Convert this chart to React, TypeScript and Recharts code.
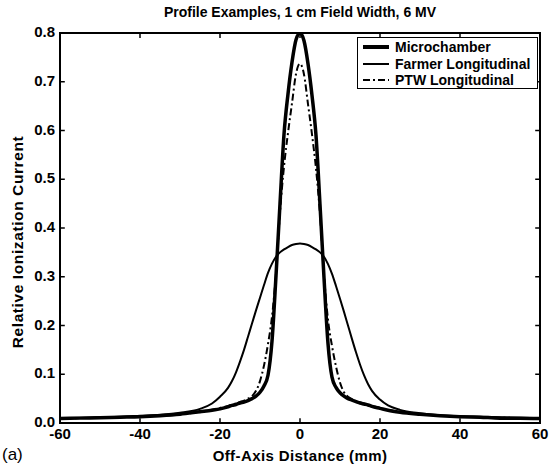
import React from "react";
import { LineChart, Line, XAxis, YAxis, ReferenceArea, ReferenceLine } from "recharts";

const offAxisMm = [-60,-55,-50,-45,-40,-35,-30,-25,-22,-20,-18,-17,-16,-15,-14,-13,-12,-11,-10,-9,-8,-7,-6,-5,-4,-3,-2,-1,0,1,2,3,4,5,6,7,8,9,10,11,12,13,14,15,16,17,18,20,22,25,30,35,40,45,50,55,60];

const microchamber = [0.009,0.010,0.011,0.012,0.013,0.015,0.018,0.023,0.026,0.029,0.033,0.036,0.038,0.041,0.043,0.046,0.050,0.055,0.063,0.076,0.098,0.168,0.302,0.450,0.592,0.675,0.740,0.786,0.800,0.784,0.737,0.672,0.590,0.448,0.298,0.163,0.094,0.073,0.062,0.055,0.050,0.047,0.044,0.041,0.039,0.037,0.034,0.030,0.026,0.022,0.018,0.015,0.013,0.012,0.010,0.010,0.009];

const farmerLongitudinal = [0.010,0.011,0.012,0.013,0.015,0.017,0.021,0.029,0.040,0.054,0.072,0.086,0.104,0.126,0.150,0.177,0.204,0.231,0.257,0.283,0.308,0.327,0.341,0.350,0.356,0.361,0.365,0.367,0.368,0.367,0.365,0.361,0.356,0.350,0.341,0.326,0.306,0.281,0.255,0.228,0.200,0.172,0.145,0.120,0.098,0.080,0.066,0.048,0.036,0.027,0.020,0.016,0.014,0.013,0.012,0.011,0.010];

const ptwLongitudinal = [0.009,0.010,0.011,0.012,0.013,0.015,0.018,0.023,0.027,0.031,0.035,0.038,0.040,0.043,0.046,0.050,0.055,0.066,0.086,0.118,0.162,0.218,0.307,0.432,0.526,0.595,0.656,0.716,0.737,0.715,0.654,0.592,0.522,0.428,0.303,0.212,0.158,0.116,0.083,0.063,0.054,0.049,0.045,0.042,0.040,0.037,0.035,0.031,0.027,0.023,0.018,0.015,0.013,0.012,0.011,0.010,0.009];

const xTicks = [-60, -40, -20, 0, 20, 40, 60];
const yTicks = [0, 0.1, 0.2, 0.3, 0.4, 0.5, 0.6, 0.7, 0.8];

const seriesNames = ["Microchamber", "Farmer Longitudinal", "PTW Longitudinal"];

const data = offAxisMm.map((x, i) => ({
  x,
  micro: microchamber[i],
  farmer: farmerLongitudinal[i],
  ptw: ptwLongitudinal[i],
}));

const FONT = "'Liberation Sans', Arial, Helvetica, sans-serif";
const X_MIN = -60, X_MAX = 60, Y_MIN = 0, Y_MAX = 0.8;
const TICK_DX = 1.2;
const TICK_DY = 0.01;

const BottomTick = (props: any) => {
  const { x, y, payload } = props;
  return (
    <text x={x} y={y + 16} textAnchor="middle" fontFamily={FONT} fontWeight="bold" fontSize={15} fill="#000">
      {payload.value}
    </text>
  );
};
const LeftTick = (props: any) => {
  const { x, y, payload } = props;
  return (
    <text x={x - 5} y={y + 4} textAnchor="end" fontFamily={FONT} fontWeight="bold" fontSize={15} fill="#000">
      {Number(payload.value).toFixed(1)}
    </text>
  );
};

const legendStyles = [
  { w: 4, dash: undefined },
  { w: 2, dash: undefined },
  { w: 2, dash: "7 3 2 3" },
];

const LegendBox = () => (
  <div
    style={{
      position: "absolute",
      left: 357,
      top: 37,
      width: 181,
      height: 52,
      border: "1px solid #000",
      background: "#fff",
      boxSizing: "border-box",
      fontFamily: FONT,
      fontWeight: "bold",
      fontSize: 14,
      paddingTop: 1,
    }}
  >
    {seriesNames.map((n, i) => (
      <div key={n} style={{ display: "flex", alignItems: "center", height: 16.5, whiteSpace: "nowrap" }}>
        <svg width={36} height={16} style={{ flex: "none" }}>
          <line x1={5} y1={8} x2={31} y2={8} stroke="#000" strokeWidth={legendStyles[i].w} strokeDasharray={legendStyles[i].dash} />
        </svg>
        <span style={{ marginLeft: 1 }}>{n}</span>
      </div>
    ))}
  </div>
);

export default function App() {
  return (
    <div style={{ position: "absolute", left: 0, top: 0, width: 554, height: 469, background: "#fff" }}>
      <div
        style={{
          position: "absolute",
          left: 0,
          width: 600,
          top: 4,
          textAlign: "center",
          fontFamily: FONT,
          fontWeight: "bold",
          fontSize: 14,
        }}
      >
        Profile Examples, 1 cm Field Width, 6 MV
      </div>
      <LineChart
        width={554}
        height={469}
        data={data}
        margin={{ top: 33, right: 14, bottom: 0, left: 0 }}
      >
        <XAxis
          type="number"
          dataKey="x"
          domain={[X_MIN, X_MAX]}
          ticks={xTicks}
          height={46}
          tickSize={0}
          tickMargin={0}
          tick={<BottomTick />}
          axisLine={false}
          tickLine={false}
          allowDataOverflow
        />
        <YAxis
          type="number"
          domain={[Y_MIN, Y_MAX]}
          ticks={yTicks}
          width={60}
          tickSize={0}
          tickMargin={0}
          tick={<LeftTick />}
          axisLine={false}
          tickLine={false}
          allowDataOverflow
        />
        {xTicks.map((t) => (
          <ReferenceLine key={"xb" + t} segment={[{ x: t, y: Y_MIN }, { x: t, y: Y_MIN + TICK_DY }]} stroke="#000" strokeWidth={1.5} ifOverflow="visible" />
        ))}
        {xTicks.map((t) => (
          <ReferenceLine key={"xt" + t} segment={[{ x: t, y: Y_MAX }, { x: t, y: Y_MAX - TICK_DY }]} stroke="#000" strokeWidth={1.5} ifOverflow="visible" />
        ))}
        {yTicks.map((t) => (
          <ReferenceLine key={"yl" + t} segment={[{ x: X_MIN, y: t }, { x: X_MIN + TICK_DX, y: t }]} stroke="#000" strokeWidth={1.5} ifOverflow="visible" />
        ))}
        {yTicks.map((t) => (
          <ReferenceLine key={"yr" + t} segment={[{ x: X_MAX, y: t }, { x: X_MAX - TICK_DX, y: t }]} stroke="#000" strokeWidth={1.5} ifOverflow="visible" />
        ))}
        <Line type="monotone" dataKey="farmer" name={seriesNames[1]} stroke="#000" strokeWidth={2} dot={false} isAnimationActive={false} />
        <Line type="monotone" dataKey="micro" name={seriesNames[0]} stroke="#000" strokeWidth={3.5} dot={false} isAnimationActive={false} />
        <Line type="monotone" dataKey="ptw" name={seriesNames[2]} stroke="#000" strokeWidth={2} strokeDasharray="7 3 2 3" dot={false} isAnimationActive={false} />
        <ReferenceArea
          x1={X_MIN}
          x2={X_MAX}
          y1={Y_MIN}
          y2={Y_MAX}
          fill="none"
          fillOpacity={0}
          stroke="#000"
          strokeWidth={2}
          strokeOpacity={1}
          ifOverflow="visible"
        />
      </LineChart>
      <LegendBox />
      <div
        style={{
          position: "absolute",
          left: 0,
          width: 600,
          top: 447,
          textAlign: "center",
          fontFamily: FONT,
          fontWeight: "bold",
          fontSize: 15,
          letterSpacing: 0.4,
        }}
      >
        Off-Axis Distance (mm)
      </div>
      <div style={{ position: "absolute", left: 2, top: 445, fontFamily: FONT, fontSize: 17 }}>(a)</div>
      <div style={{ position: "absolute", left: 18, top: 242, width: 0, height: 0 }}>
        <div
          style={{
            position: "absolute",
            left: 0,
            top: 0,
            transform: "translate(-50%, -50%) rotate(-90deg)",
            whiteSpace: "nowrap",
            fontFamily: FONT,
            fontWeight: "bold",
            fontSize: 15.5,
            letterSpacing: 0.6,
          }}
        >
          Relative Ionization Current
        </div>
      </div>
    </div>
  );
}
